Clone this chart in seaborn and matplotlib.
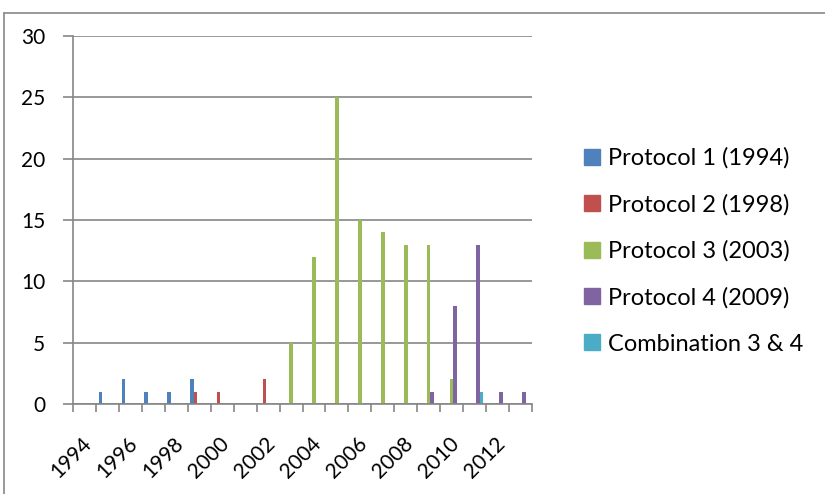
import matplotlib
matplotlib.use("Agg")
import matplotlib.pyplot as plt
import matplotlib.lines as mlines
import matplotlib.transforms as mtransforms
import seaborn as sns
import pandas as pd

years = list(range(1994, 2014))
series_names = [
    "Protocol 1 (1994)",
    "Protocol 2 (1998)",
    "Protocol 3 (2003)",
    "Protocol 4 (2009)",
    "Combination 3 & 4",
]
protocol1 = [0, 1, 2, 1, 1, 2, 0, 0, 0, 0, 0, 0, 0, 0, 0, 0, 0, 0, 0, 0]
protocol2 = [0, 0, 0, 0, 0, 1, 1, 0, 2, 0, 0, 0, 0, 0, 0, 0, 0, 0, 0, 0]
protocol3 = [0, 0, 0, 0, 0, 0, 0, 0, 0, 5, 12, 25, 15, 14, 13, 13, 2, 0, 0, 0]
protocol4 = [0, 0, 0, 0, 0, 0, 0, 0, 0, 0, 0, 0, 0, 0, 0, 1, 8, 13, 1, 1]
combo34 = [0, 0, 0, 0, 0, 0, 0, 0, 0, 0, 0, 0, 0, 0, 0, 0, 0, 1, 0, 0]
tick_labels = [str(y) for y in range(1994, 2013, 2)]

colors = ["#4F81BD", "#C0504D", "#9BBB59", "#8064A2", "#4BACC6"]

rows = []
for name, vals in zip(series_names, [protocol1, protocol2, protocol3, protocol4, combo34]):
    for y, v in zip(years, vals):
        rows.append({"year": str(y), "series": name, "count": v})
df = pd.DataFrame(rows)

sns.set_theme(style="white")
plt.rcParams["font.family"] = ["Lato", "DejaVu Sans"]
plt.rcParams["text.color"] = "black"
plt.rcParams["xtick.color"] = "black"
plt.rcParams["ytick.color"] = "black"

fig = plt.figure(figsize=(8.25, 4.94), dpi=100)
ax = fig.add_axes([73 / 825, 1 - 404 / 494, (532 - 73) / 825, (404 - 36) / 494])

sns.barplot(
    data=df, x="year", y="count", hue="series",
    order=[str(y) for y in years], hue_order=series_names,
    palette=colors, width=5 / 6.5, dodge=True, saturation=1,
    linewidth=0, ax=ax, legend=False,
)

grid_c = "#868686"
ax.set_xlim(-0.5, len(years) - 0.5)
ax.set_ylim(0, 30)
ax.set_yticks(range(0, 31, 5))
ax.yaxis.grid(True, color=grid_c, linewidth=1.2)
ax.set_axisbelow(True)
ax.set_xlabel("")
ax.set_ylabel("")

for side in ["top", "right"]:
    ax.spines[side].set_visible(False)
for side in ["left", "bottom"]:
    ax.spines[side].set_color(grid_c)
    ax.spines[side].set_linewidth(1.2)

# tick marks on category boundaries, labels on every second category
ax.set_xticks([i - 0.5 for i in range(len(years) + 1)])
ax.set_xticklabels([])
ax.tick_params(axis="x", which="major", direction="out", length=6, width=1.2,
               color=grid_c, bottom=True)
ax.set_xticks(list(range(0, len(years), 2)), minor=True)
ax.set_xticklabels(tick_labels, minor=True, rotation=45, ha="right",
                   rotation_mode="anchor", fontsize=15)
ax.tick_params(axis="x", which="minor", length=0, pad=21)
shift = mtransforms.ScaledTranslation(-3 / 100, 0, fig.dpi_scale_trans)
for lbl in ax.get_xticklabels(minor=True):
    lbl.set_transform(lbl.get_transform() + shift)
ax.tick_params(axis="y", direction="out", length=7, width=1.2, color=grid_c,
               labelsize=15, pad=13, left=True)

handles = [mlines.Line2D([], [], marker="s", linestyle="none", markersize=11,
                         markerfacecolor=c, markeredgecolor=c) for c in colors]
fig.legend(handles, series_names, loc="center left",
           bbox_to_anchor=(570 / 825, 1 - 251 / 494), frameon=False,
           fontsize=17, labelspacing=1.06, handletextpad=0.2,
           handlelength=0.9, borderpad=0)

# chart frame
frame_c = "#878787"
fig.add_artist(mlines.Line2D([3.5 / 825, 3.5 / 825], [0, 1 - 13.5 / 494],
                             transform=fig.transFigure, color=frame_c, linewidth=1.2))
fig.add_artist(mlines.Line2D([3.5 / 825, 1], [1 - 13.5 / 494, 1 - 13.5 / 494],
                             transform=fig.transFigure, color=frame_c, linewidth=1.2))

fig.savefig("out.png", dpi=100)
